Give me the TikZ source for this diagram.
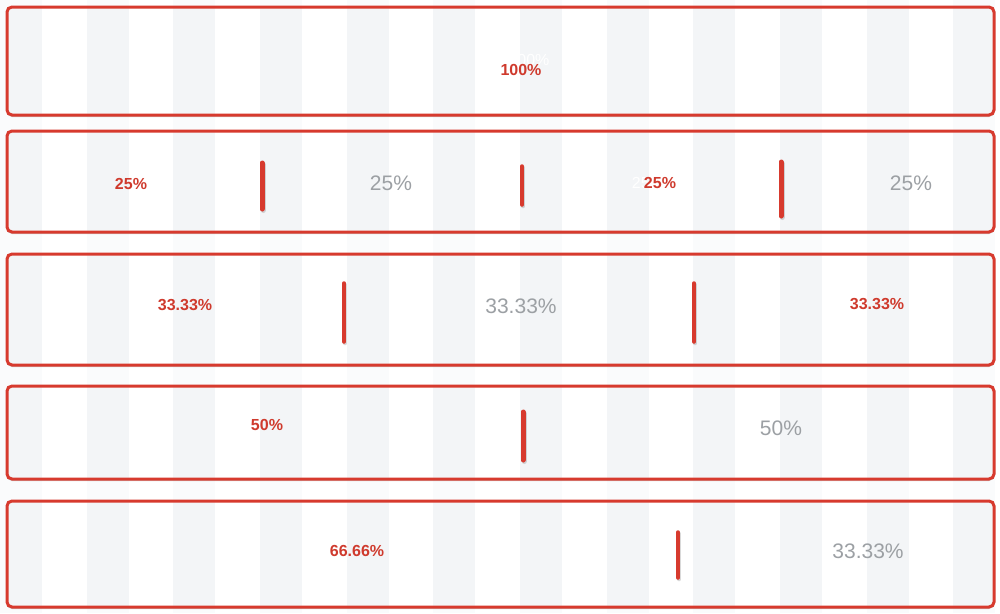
\documentclass[tikz,border=0pt]{standalone}
\usepackage{fontspec}
\setmainfont{Liberation Sans}
\usetikzlibrary{shadows}
\definecolor{brandred}{HTML}{D73A2E}
\definecolor{txtred}{HTML}{CF3A2D}
\definecolor{txtgray}{HTML}{9CA0A4}
\definecolor{stripein}{HTML}{F3F5F7}
\definecolor{stripeout}{HTML}{FAFBFC}
\tikzset{
  rowbox/.style={draw=none, rounded corners=5pt, fill=white,
    minimum width=987pt, inner sep=0pt, outer sep=0pt,
    drop shadow={shadow xshift=0pt, shadow yshift=-2pt, opacity=0.18, fill=black}},
  rowborder/.style={draw=brandred, line width=3pt, rounded corners=5pt},
  stripe/.style={fill=stripein},
  redlbl/.style={text=txtred, font=\fontsize{16}{18}\selectfont\bfseries, inner sep=0pt},
  ghostlbl/.style={text=white, font=\fontsize{16}{18}\selectfont, inner sep=0pt},
  graylbl/.style={text=txtgray, font=\fontsize{21}{24}\selectfont, inner sep=0pt},
  divthick/.style={draw=brandred, line width=5pt, line cap=round,
    preaction={draw=black, opacity=0.15, line width=5pt, line cap=round, transform canvas={shift={(1pt,-1.5pt)}}}},
  divthin/.style={draw=brandred, line width=3.5pt, line cap=round,
    preaction={draw=black, opacity=0.15, line width=3.5pt, line cap=round, transform canvas={shift={(1pt,-1.5pt)}}}},
}
\begin{document}
\begin{tikzpicture}[x=1pt, y=-1pt]
\useasboundingbox (0,0) rectangle (1000,613);
\fill[white] (0,0) rectangle (1000,613);
\foreach \k in {0,...,11} \fill[stripeout] ({\k*86.667},0) rectangle ++(42,613);

% rows
\foreach \n/\cy/\h in {r1/61/108, r2/181.5/101, r3/309.5/111, r4/432.5/93, r5/554/106} {
  \node[rowbox, minimum height=\h pt] (\n) at (500.5,\cy) {};
  \begin{scope}
    \clip[rounded corners=5pt] (\n.north west) rectangle (\n.south east);
    \foreach \k in {0,...,11} \fill[stripe] ({\k*86.667},0) rectangle ++(42,613);
  \end{scope}
  \draw[rowborder] (\n.north west) rectangle (\n.south east);
}

% row 1
\node[ghostlbl] (g1) at (529,60) {100\%};
\node[redlbl] (t1) at (521,70) {100\%};

% row 2
\node[redlbl] (t2a) at (131,184) {25\%};
\node[graylbl] (t2b) at (391,183) {25\%};
\node[ghostlbl] (g2) at (648,183) {25\%};
\node[redlbl] (t2c) at (660,183) {25\%};
\node[graylbl] (t2d) at (911,183) {25\%};
\coordinate (d2a1) at (262,163); \coordinate (d2a2) at (262,209);
\coordinate (d2b1) at (522,166); \coordinate (d2b2) at (522,205);
\coordinate (d2c1) at (781,162); \coordinate (d2c2) at (781,216);
\draw[divthick] (d2a1) -- (d2a2);
\draw[divthin] (d2b1) -- (d2b2);
\draw[divthick] (d2c1) -- (d2c2);

% row 3
\node[redlbl] (t3a) at (185,305) {33.33\%};
\node[graylbl] (t3b) at (521,306) {33.33\%};
\node[redlbl] (t3c) at (877,304) {33.33\%};
\coordinate (d3a1) at (344,283); \coordinate (d3a2) at (344,342);
\coordinate (d3b1) at (694,283); \coordinate (d3b2) at (694,342);
\draw[divthin] (d3a1) -- (d3a2);
\draw[divthin] (d3b1) -- (d3b2);

% row 4
\node[redlbl] (t4a) at (267,425) {50\%};
\node[graylbl] (t4b) at (781,428) {50\%};
\coordinate (d4a1) at (523,412); \coordinate (d4a2) at (523,460);
\draw[divthick] (d4a1) -- (d4a2);

% row 5
\node[redlbl] (t5a) at (357,551) {66.66\%};
\node[graylbl] (t5b) at (868,551) {33.33\%};
\coordinate (d5a1) at (678,532); \coordinate (d5a2) at (678,578);
\draw[divthin] (d5a1) -- (d5a2);
\end{tikzpicture}
\end{document}
